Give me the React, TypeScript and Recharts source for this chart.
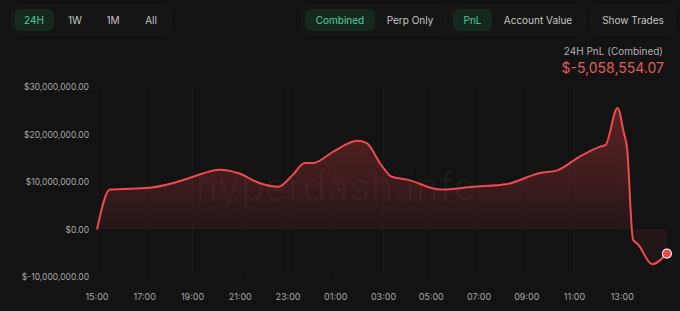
import { Area, AreaChart, CartesianGrid, XAxis, YAxis } from "recharts"

// hours since 15:00
const hours = [
  0, 0.54, 2.2, 3.2, 3.9, 5.15, 5.9, 6.8, 7.6, 8.2, 8.7, 9.05, 9.9, 10.9, 11.3, 11.85, 12.35, 13, 14.4, 15.75, 17.2,
  18.55, 19.25, 20.2, 21.05, 21.3, 21.8, 22.07, 22.2, 22.45, 22.66, 23.25, 23.87,
]
const pnl = [
  0, 8400000, 8800000, 9800000, 10900000, 12600000, 11900000, 9800000, 9000000, 11500000, 14000000, 14000000,
  16400000, 18700000, 18200000, 14000000, 11100000, 10500000, 8400000, 9000000, 9600000, 11900000, 12400000,
  15300000, 17400000, 17800000, 25600000, 20300000, 17200000, -2100000, -3100000, -7300000, -5058554.07,
]
const xTicks = [0, 2, 4, 6, 8, 10, 12, 14, 16, 18, 20, 22]
const yTicks = [-10000000, 0, 10000000, 20000000, 30000000]
const rangeTabs = ["24H", "1W", "1M", "All"]

const data = hours.map((h, i) => ({ h, pnl: pnl[i] }))

const fmtMoney = (v: number) =>
  "$" + (v < 0 ? "-" : "") + Math.abs(v).toLocaleString("en-US", { minimumFractionDigits: 2, maximumFractionDigits: 2 })
const fmtHour = (h: number) => `${String((15 + h) % 24).padStart(2, "0")}:00`

const green = "#4fcf9f"
const activeBg = "#16291f"
const groupStyle = {
  position: "absolute" as const,
  top: 5,
  height: 30,
  borderRadius: 8,
  background: "#151515",
  border: "1px solid #1b1b1b",
  boxSizing: "border-box" as const,
}

function Btn({ label, active, left, width }: { label: string; active?: boolean; left: number; width: number }) {
  return (
    <div
      style={{
        position: "absolute",
        top: 3,
        left,
        width,
        height: 22,
        borderRadius: 6,
        background: active ? activeBg : "transparent",
        color: active ? green : "#c4c4c4",
        fontSize: 10,
        lineHeight: "22px",
        textAlign: "center",
      }}
    >
      {label}
    </div>
  )
}

export default function App() {
  const dot = (p: any) => {
    if (p.index !== data.length - 1) return <g key={p.index} />
    return <circle key={p.index} cx={p.cx} cy={p.cy} r={4.5} fill="#ef4444" stroke="#f5f5f5" strokeWidth={1.2} />
  }
  return (
    <div
      style={{
        position: "absolute",
        top: 0,
        left: 0,
        width: 680,
        height: 311,
        background: "#131313",
        fontFamily: "Inter, sans-serif",
        overflow: "hidden",
      }}
    >
      <div style={{ ...groupStyle, left: 11, width: 160 }}>
        {rangeTabs.map((t, i) => (
          <Btn key={t} label={t} active={i === 0} left={[2, 48, 86, 124][i]} width={[40, 30, 30, 30][i]} />
        ))}
      </div>
      <div style={{ ...groupStyle, left: 302, width: 145 }}>
        <Btn label="Combined" active left={2} width={70} />
        <Btn label="Perp Only" left={74} width={66} />
      </div>
      <div style={{ ...groupStyle, left: 450, width: 135 }}>
        <Btn label="PnL" active left={2} width={39} />
        <Btn label="Account Value" left={44} width={86} />
      </div>
      <div style={{ ...groupStyle, left: 590, width: 85 }}>
        <Btn label="Show Trades" left={2} width={80} />
      </div>
      <div
        style={{ position: "absolute", right: 17, top: 45, fontSize: 10, color: "#b0b0b0", textAlign: "right" }}
      >
        24H PnL (Combined)
      </div>
      <div
        style={{ position: "absolute", right: 16, top: 59, fontSize: 14, color: "#e25c5c", textAlign: "right" }}
      >
        $-5,058,554.07
      </div>
      <div
        style={{
          position: "absolute",
          left: 195,
          top: 163,
          fontSize: 39,
          color: "rgba(255,255,255,0.035)",
          letterSpacing: 0.5,
        }}
      >
        hyperdash.info
      </div>
      <div style={{ position: "absolute", top: 0, left: 0 }}>
        <AreaChart width={680} height={311} data={data} margin={{ top: 87, right: 10, bottom: 0, left: 0 }}>
          <defs>
            <linearGradient id="pnlFill" x1="0" y1="0" x2="0" y2="1">
              <stop offset="0%" stopColor="#c8373c" stopOpacity={0.7} />
              <stop offset="78%" stopColor="#c8373c" stopOpacity={0.16} />
              <stop offset="100%" stopColor="#c8373c" stopOpacity={0.1} />
            </linearGradient>
          </defs>
          <CartesianGrid horizontal={false} stroke="#191919" />
          <XAxis
            dataKey="h"
            type="number"
            domain={[0, 24]}
            ticks={xTicks}
            tickFormatter={fmtHour}
            axisLine={false}
            tickLine={false}
            height={34}
            tickMargin={11}
            tick={{ fontSize: 9, fill: "#a8a8a8" }}
          />
          <YAxis
            type="number"
            domain={[-10000000, 30000000]}
            ticks={yTicks}
            tickFormatter={fmtMoney}
            axisLine={false}
            tickLine={false}
            width={97}
            tick={{ fontSize: 8.5, fill: "#a8a8a8" }}
          />
          <Area
            type="monotone"
            dataKey="pnl"
            baseValue={0}
            stroke="#ef4a4f"
            strokeWidth={2}
            fill="url(#pnlFill)"
            dot={dot}
            activeDot={false}
            isAnimationActive={false}
          />
        </AreaChart>
      </div>
    </div>
  )
}
